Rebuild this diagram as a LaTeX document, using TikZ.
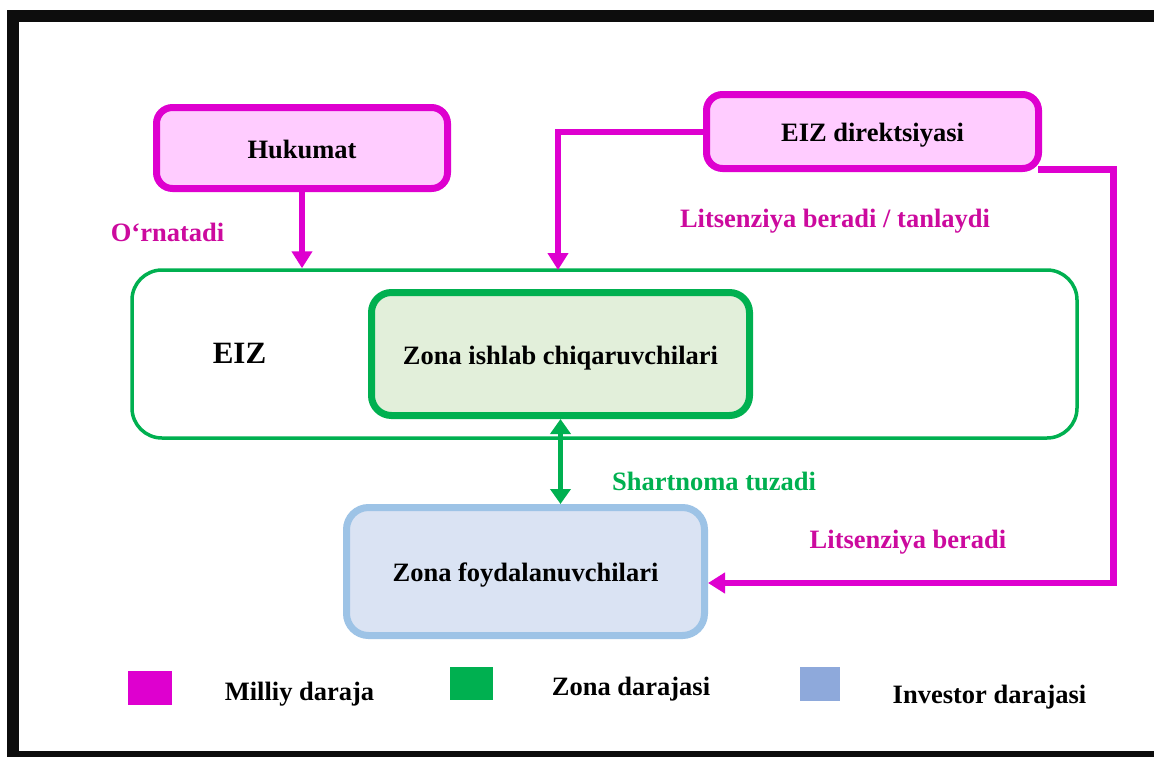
\documentclass[tikz,border=0pt]{standalone}
\usepackage{fontspec}
\setmainfont{Liberation Serif}
\usetikzlibrary{arrows.meta,calc}
\definecolor{mag}{HTML}{DE00CF}
\definecolor{magtext}{HTML}{CC0A9E}
\definecolor{pinkfill}{HTML}{FFCCFF}
\definecolor{grn}{HTML}{00B050}
\definecolor{grnfill}{HTML}{E2EFDA}
\definecolor{blueline}{HTML}{9DC3E6}
\definecolor{bluefill}{HTML}{DAE3F3}
\definecolor{legblue}{HTML}{8EA9DB}
\definecolor{framec}{HTML}{0D0D0D}
\begin{document}
\begin{tikzpicture}[x=1pt,y=-1pt,
  txt/.style={font=\fontsize{26.5}{30}\selectfont\bfseries},
  box/.style={rectangle, inner sep=0pt, txt, text height=20pt, text depth=0pt},
  natbox/.style={box, draw=mag, fill=pinkfill, line width=7pt, rounded corners=16pt},
  lbl/.style={txt, anchor=base, inner sep=0pt},
  magline/.style={draw=mag, line width=6pt, line join=miter},
  magarrow/.style={magline, -{Triangle[length=17pt,width=20pt]}},
  grnarrow/.style={draw=grn, line width=5.5pt, {Triangle[length=15pt,width=20pt]}-{Triangle[length=15pt,width=20pt]}},
  legsq/.style={rectangle, inner sep=0pt}
]
\useasboundingbox (0,0) rectangle (1154,756);
\clip (0,0) rectangle (1154,756);
\fill[white] (0,0) rectangle (1154,756);
\draw[framec, line width=12pt] (13,16) rectangle (1180,757);

% boxes
\node[natbox, minimum width=291pt, minimum height=81pt] (huk) at (302,148) {Hukumat};
\node[natbox, minimum width=332pt, minimum height=74pt] (dir) at (872.5,131.5) {EIZ direktsiyasi};
\node[rectangle, draw=grn, line width=3.5pt, rounded corners=30pt, minimum width=945pt, minimum height=168pt, inner sep=0pt] (eiz) at (604.5,354) {};
\node[lbl, font=\fontsize{31}{34}\selectfont\bfseries] (eizt) at (239.5,363) {EIZ};
\node[box, text height=21.5pt, draw=grn, fill=grnfill, line width=7pt, rounded corners=20pt, minimum width=378pt, minimum height=123pt] (zic) at (560.5,354) {Zona ishlab chiqaruvchilari};
\node[box, text height=20.5pt, draw=blueline, fill=bluefill, line width=7pt, rounded corners=22pt, minimum width=358pt, minimum height=128pt] (foy) at (525.5,571.5) {Zona foydalanuvchilari};

% connectors
\draw[magarrow] (huk.south) -- (huk.south |- eiz.north);
\coordinate (lc) at (558,270);
\draw[magarrow] (dir.west) -| (lc);
\coordinate (rc) at (1113.5,583);
\draw[magarrow, line width=6.5pt] ([xshift=-4pt,yshift=2.5pt]dir.south east) -| (rc) -- ([yshift=-11.5pt]foy.east);
\draw[grnarrow] (zic.south) -- (zic.south |- foy.north);

% labels
\node[lbl, text=magtext] (l1) at (167.5,241) {O‘rnatadi};
\node[lbl, text=magtext] (l2) at (835,227) {Litsenziya beradi / tanlaydi};
\node[lbl, text=grn] (l3) at (714,490) {Shartnoma tuzadi};
\node[lbl, text=magtext] (l4) at (908,548) {Litsenziya beradi};

% legend
\node[legsq, fill=mag, minimum width=44pt, minimum height=34pt] (lm) at (150,688) {};
\node[lbl] (lmt) at (299.5,700) {Milliy daraja};
\node[legsq, fill=grn, minimum width=43pt, minimum height=33pt] (lg) at (471.5,683.5) {};
\node[lbl] (lgt) at (631,695) {Zona darajasi};
\node[legsq, fill=legblue, minimum width=40pt, minimum height=34pt] (lb) at (820,684) {};
\node[lbl] (lbt) at (989.5,703) {Investor darajasi};
\end{tikzpicture}
\end{document}
